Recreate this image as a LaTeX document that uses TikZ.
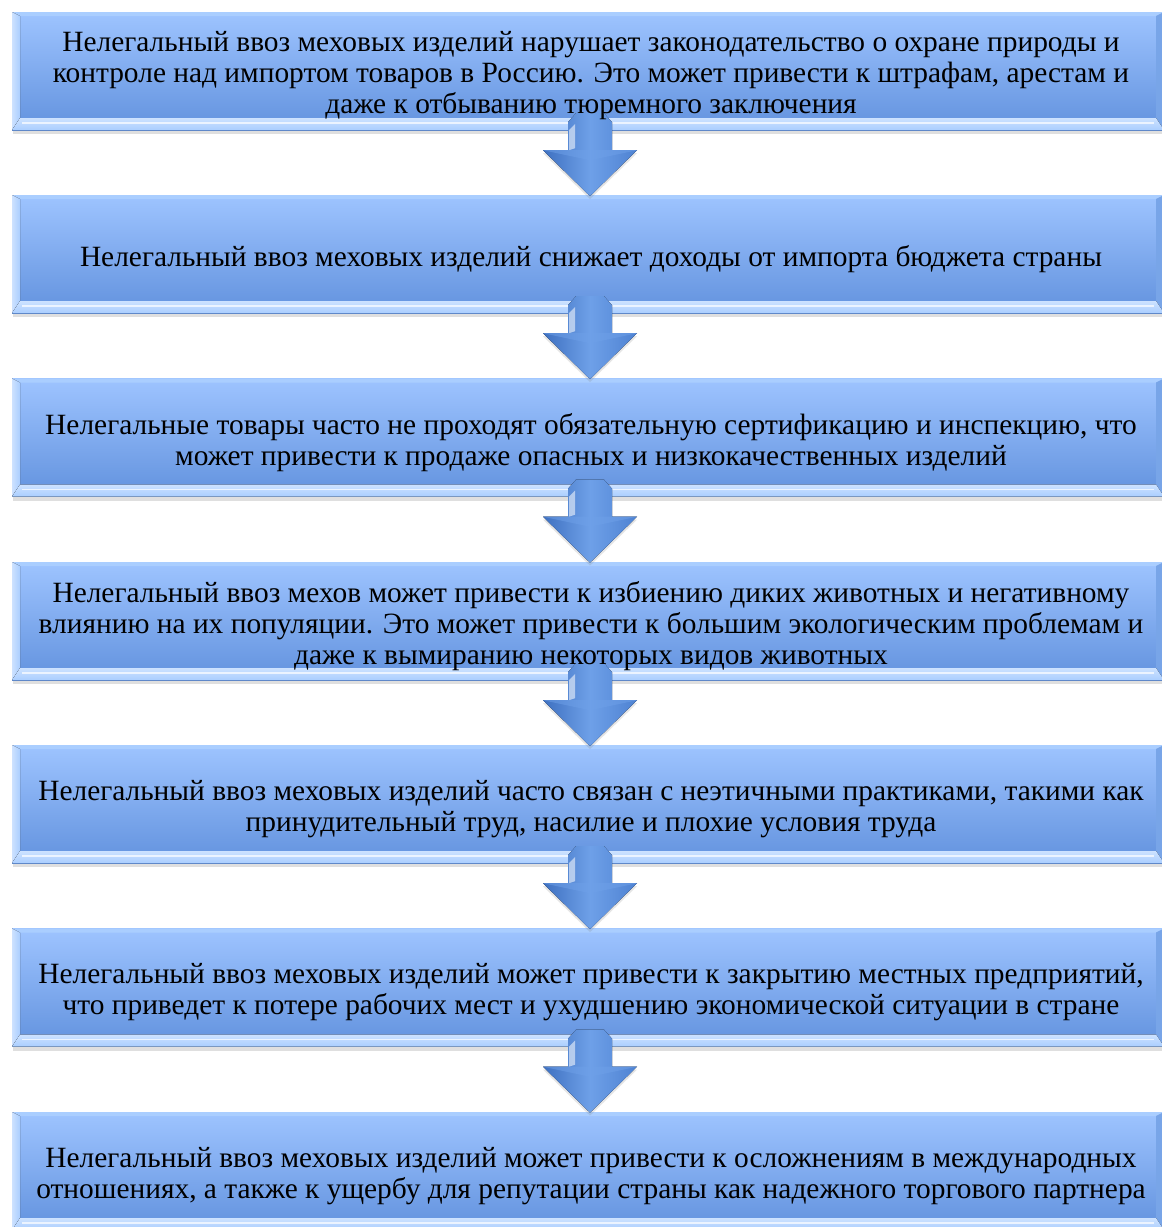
\documentclass[tikz,border=0pt]{standalone}
\usepackage{fontspec}
\setmainfont{Liberation Serif}
\usetikzlibrary{shadows,calc}
\definecolor{boxtop}{RGB}{158,196,255}
\definecolor{boxbot}{RGB}{98,146,222}
\definecolor{bevlight}{RGB}{205,226,255}
\definecolor{bevmid}{RGB}{170,206,255}
\definecolor{bevdark}{RGB}{120,165,232}
\definecolor{arrowmid}{RGB}{78,130,210}
\definecolor{arrowlight}{RGB}{110,160,232}
\definecolor{arrowdark}{RGB}{62,112,192}
\tikzset{
  stepbox/.style={minimum width=1152pt, minimum height=118pt, inner sep=0pt,
    top color=boxtop, bottom color=boxbot,
    drop shadow={opacity=0.25, shadow xshift=1pt, shadow yshift=-4pt},
    path picture={
      \coordinate (pnw) at (path picture bounding box.north west);
      \coordinate (pse) at (path picture bounding box.south east);
      \coordinate (pne) at (path picture bounding box.north east);
      \coordinate (psw) at (path picture bounding box.south west);
      \fill[bevmid] (pnw) -- (pne) -- ($(pne)+(-8,4)$) -- ($(pnw)+(8,4)$) -- cycle;
      \fill[left color=bevlight, right color=bevmid] (pnw) -- ($(pnw)+(8,4)$) -- ($(psw)+(8,-12)$) -- (psw) -- cycle;
      \fill[bevdark] (pne) -- ($(pne)+(-8,4)$) -- ($(pse)+(-8,-12)$) -- (pse) -- cycle;
      \fill[top color=bevlight, bottom color=bevmid] (psw) -- ($(psw)+(8,-12)$) -- ($(pse)+(-8,-12)$) -- (pse) -- cycle;
      \draw[white, opacity=0.7, line width=1.5pt] ($(psw)+(10,-7)$) -- ($(pse)+(-10,-7)$);
    }},
  boxtext/.style={inner sep=0pt, align=center, font=\fontsize{29.4}{31}\selectfont},
  downarrow/.style={left color=arrowdark, right color=arrowmid, middle color=arrowlight,
    drop shadow={opacity=0.2, shadow xshift=0pt, shadow yshift=-3pt}},
}
\begin{document}
\begin{tikzpicture}[x=1pt, y=-1pt]
\useasboundingbox (0,0) rectangle (1162,1227);
\fill[white] (0,0) rectangle (1162,1227);
\clip (0,0) rectangle (1162,1227);

\node[stepbox] (b1) at (588,71) {};
\node[stepbox] (b2) at (588,254) {};
\node[stepbox] (b3) at (588,437.5) {};
\node[stepbox] (b4) at (588,621) {};
\node[stepbox] (b5) at (588,804) {};
\node[stepbox] (b6) at (588,987.5) {};
\node[stepbox] (b7) at (588,1171) {};

\foreach \a in {b1,b2,b3,b4,b5,b6}{
  \begin{scope}[shift={(\a.south)}, xshift=2pt]
    \fill[downarrow] (-22,-8) -- (-14,-17) -- (14,-17) -- (22,-8) -- (22,20) -- (47,20) -- (0,66) -- (-47,20) -- (-22,20) -- cycle;
    \fill[white, opacity=0.55] (-21,0) -- (-15,-6) -- (-15,18) -- (-21,20) -- cycle;
    \fill[arrowlight, opacity=0.5] (-47,20) -- (47,20) -- (0,30) -- cycle;
  \end{scope}
}

\node[boxtext] (t1) at ($(b1.center)+(3,5)$) {Нелегальный ввоз меховых изделий нарушает законодательство о охране природы и\\ контроле над импортом товаров в Россию. Это может привести к штрафам, арестам и\\ даже к отбыванию тюремного заключения};
\node[boxtext] (t2) at ($(b2.center)+(3,5)$) {Нелегальный ввоз меховых изделий снижает доходы от импорта бюджета страны};
\node[boxtext] (t3) at ($(b3.center)+(3,5)$) {Нелегальные товары часто не проходят обязательную сертификацию и инспекцию, что\\ может привести к продаже опасных и низкокачественных изделий};
\node[boxtext] (t4) at ($(b4.center)+(3,5)$) {Нелегальный ввоз мехов может привести к избиению диких животных и негативному\\ влиянию на их популяции. Это может привести к большим экологическим проблемам и\\ даже к вымиранию некоторых видов животных};
\node[boxtext] (t5) at ($(b5.center)+(3,5)$) {Нелегальный ввоз меховых изделий часто связан с неэтичными практиками, такими как\\ принудительный труд, насилие и плохие условия труда};
\node[boxtext] (t6) at ($(b6.center)+(3,5)$) {Нелегальный ввоз меховых изделий может привести к закрытию местных предприятий,\\ что приведет к потере рабочих мест и ухудшению экономической ситуации в стране};
\node[boxtext] (t7) at ($(b7.center)+(3,5)$) {Нелегальный ввоз меховых изделий может привести к осложнениям в международных\\ отношениях, а также к ущербу для репутации страны как надежного торгового партнера};
\end{tikzpicture}
\end{document}
